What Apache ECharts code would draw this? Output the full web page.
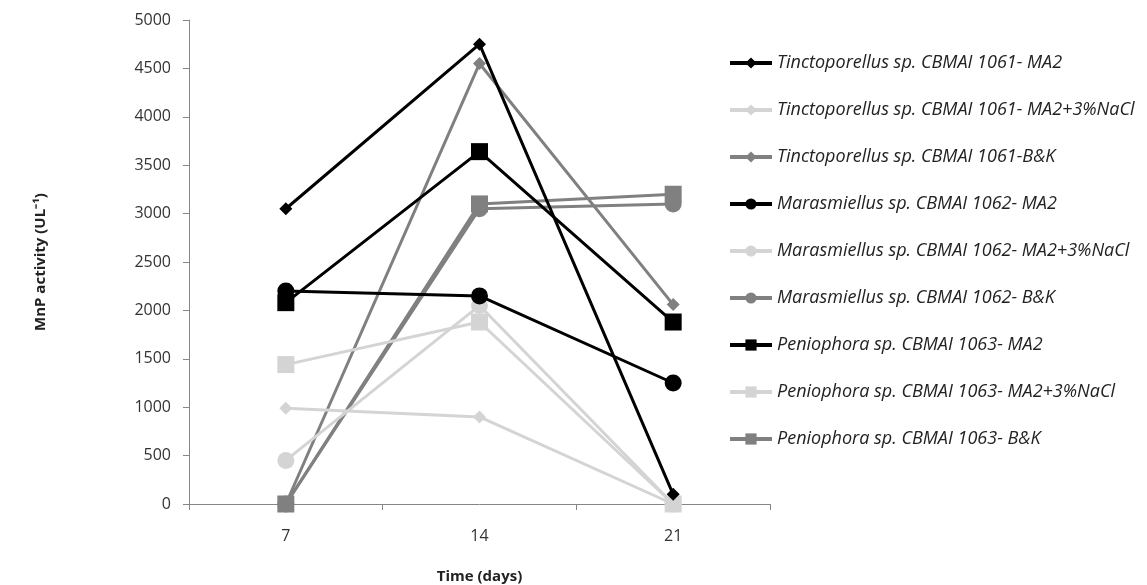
<!DOCTYPE html>
<html><head><meta charset="utf-8">
<script src="https://cdn.jsdelivr.net/npm/echarts@6/dist/echarts.min.js"></script>
<style>html,body{margin:0;padding:0;background:#fff}#c{width:1147px;height:585px}</style>
</head><body><div id="c"></div>
<script>
var categories = ['7', '14', '21'];
var seriesNames = [
  'Tinctoporellus sp. CBMAI 1061- MA2',
  'Tinctoporellus sp. CBMAI 1061- MA2+3%NaCl',
  'Tinctoporellus sp. CBMAI 1061-B&K',
  'Marasmiellus sp. CBMAI 1062- MA2',
  'Marasmiellus sp. CBMAI 1062- MA2+3%NaCl',
  'Marasmiellus sp. CBMAI 1062- B&K',
  'Peniophora sp. CBMAI 1063- MA2',
  'Peniophora sp. CBMAI 1063- MA2+3%NaCl',
  'Peniophora sp. CBMAI 1063- B&K'
];
var tinctoMA2 = [3050, 4750, 100];
var tinctoNaCl = [990, 900, 0];
var tinctoBK = [0, 4550, 2060];
var marasMA2 = [2200, 2150, 1250];
var marasNaCl = [450, 2050, 0];
var marasBK = [0, 3050, 3100];
var penioMA2 = [2080, 3640, 1880];
var penioNaCl = [1440, 1880, 0];
var penioBK = [0, 3100, 3200];
var yTicks = [0, 500, 1000, 1500, 2000, 2500, 3000, 3500, 4000, 4500, 5000];

var dataList = [tinctoMA2, tinctoNaCl, tinctoBK, marasMA2, marasNaCl, marasBK, penioMA2, penioNaCl, penioBK];
var colors = ['#000000', '#d4d4d4', '#808080'];
var symbols = ['diamond', 'circle', 'rect'];
var symSizes = [13, 17, 17];

var series = dataList.map(function (d, i) {
  var g = Math.floor(i / 3), c = colors[i % 3];
  return {
    name: seriesNames[i], type: 'line', data: d,
    symbol: symbols[g], symbolSize: symSizes[g],
    lineStyle: { color: c, width: 3 },
    itemStyle: { color: c },
    z: 10 - (i % 3)
  };
});

var chart = echarts.init(document.getElementById('c'), null, { renderer: 'canvas' });
chart.setOption({
  animation: false,
  backgroundColor: '#fff',
  grid: { left: 189, right: 377, top: 20, bottom: 81, outerBoundsMode: 'none', containLabel: false },
  legend: {
    orient: 'vertical', left: 723, top: 49,
    itemWidth: 42, itemHeight: 14, itemGap: 29,
    lineStyle: { width: 4 },
    textStyle: { fontFamily: 'Open Sans', fontStyle: 'italic', fontSize: 18, color: '#222' },
    data: seriesNames
  },
  xAxis: {
    type: 'category', data: categories, boundaryGap: true,
    name: 'Time (days)', nameLocation: 'middle', nameGap: 65,
    nameTextStyle: { fontFamily: 'Open Sans', fontWeight: 'bold', fontSize: 15, color: '#222' },
    axisLine: { lineStyle: { color: '#868686', width: 1 } },
    axisTick: { show: true, length: 6, alignWithLabel: false, lineStyle: { color: '#868686' } },
    axisLabel: { fontFamily: 'Open Sans', fontSize: 16, color: '#333', margin: 24 }
  },
  yAxis: {
    type: 'value', min: 0, max: 5000, interval: 500,
    name: 'MnP activity (UL\u207B\u00B9)', nameLocation: 'middle', nameGap: 141, nameRotate: 90,
    nameTextStyle: { fontFamily: 'Open Sans', fontWeight: 'bold', fontSize: 15, color: '#222' },
    axisLine: { show: true, lineStyle: { color: '#868686', width: 1 } },
    axisTick: { show: true, length: 6, lineStyle: { color: '#868686' } },
    splitLine: { show: false },
    axisLabel: { fontFamily: 'Open Sans', fontSize: 16, color: '#333', margin: 18,
      formatter: function (v) { return yTicks.indexOf(v) >= 0 ? String(v) : ''; } }
  },
  series: series
});
</script>
</body></html>
